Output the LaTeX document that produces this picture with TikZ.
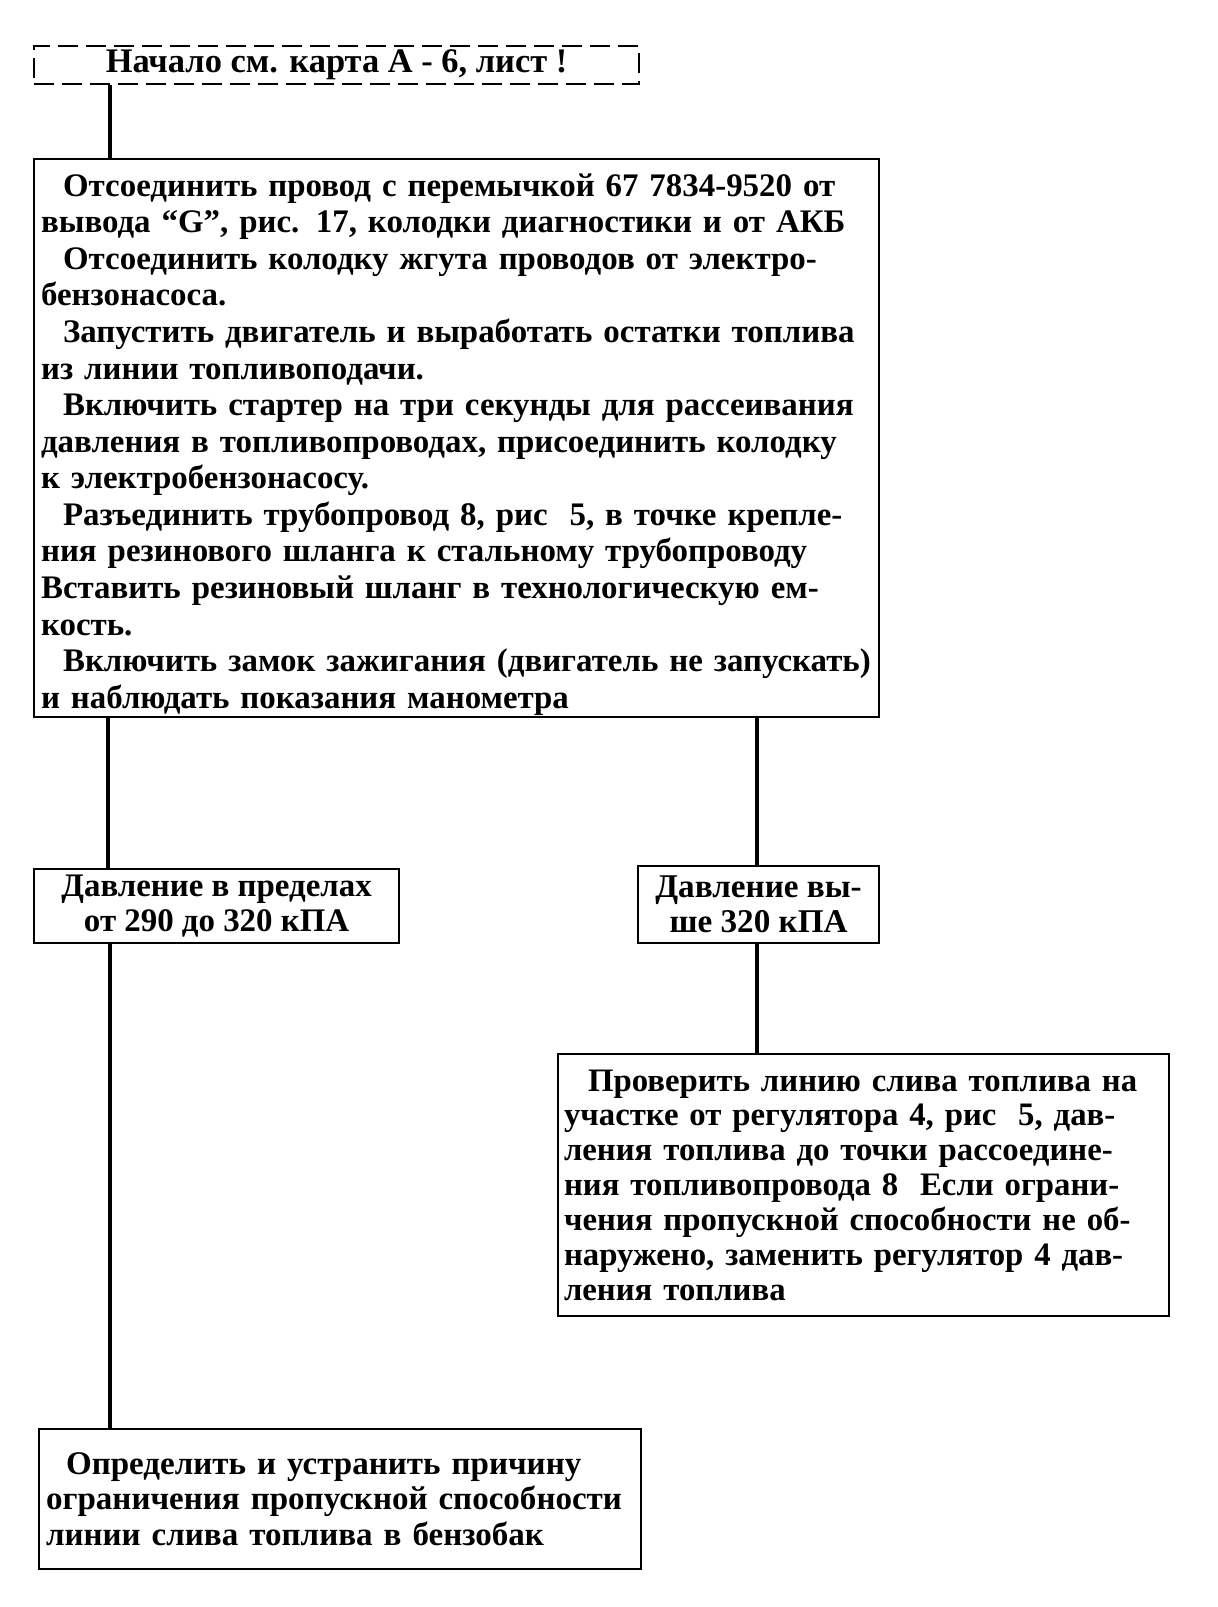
\documentclass[tikz,border=0pt]{standalone}
\usepackage{fontspec}
\setmainfont{Liberation Serif}
\newcommand\tline[1]{\mbox{#1}}
\begin{document}
\begin{tikzpicture}[x=0.025cm,y=-0.025cm,
  box/.style={draw, line width=1.5pt, inner xsep=0.175cm, inner ysep=0pt, anchor=north west,
    font=\bfseries\fontsize{23.4}{26}\selectfont},
  link/.style={line width=3.2pt}]
\useasboundingbox (0,0) rectangle (1218,1607);
\node[box, dashed, dash pattern=on 0.5cm off 0.2cm, align=center, minimum width=15.125cm, minimum height=0.95cm, font=\bfseries\fontsize{24.5}{26}\selectfont] (start) at (33,45) {Начало см. карта А - 6, лист !};
\node[box, align=left, text width=20.775cm, minimum height=13.95cm] (main) at (33,158) {%
\tline{\rule{0pt}{25pt}\hspace*{0.55cm}Отсоединить провод с перемычкой 67 7834-9520 от}\\
\tline{вывода “G”, рис. 17, колодки диагностики и от АКБ}\\
\tline{\hspace*{0.55cm}Отсоединить колодку жгута проводов от электро-}\\
\tline{бензонасоса.}\\
\tline{\hspace*{0.55cm}Запустить двигатель и выработать остатки топлива}\\
\tline{из линии топливоподачи.}\\
\tline{\hspace*{0.55cm}Включить стартер на три секунды для рассеивания}\\
\tline{давления в топливопроводах, присоединить колодку}\\
\tline{к электробензонасосу.}\\
\tline{\hspace*{0.55cm}Разъединить трубопровод 8, рис\ \ 5, в точке крепле-}\\
\tline{ния резинового шланга к стальному трубопроводу}\\
\tline{Вставить резиновый шланг в технологическую ем-}\\
\tline{кость.}\\
\tline{\hspace*{0.55cm}Включить замок зажигания (двигатель не запускать)}\\
\tline{и наблюдать показания манометра}};
\node[box, align=center, minimum width=9.125cm, minimum height=1.85cm, font=\bfseries\fontsize{23.4}{24.8}\selectfont] (p1) at (33,868) {Давление в пределах\\от 290 до 320 кПА};
\node[box, align=center, minimum width=6.025cm, minimum height=1.925cm, font=\bfseries\fontsize{23.6}{24.8}\selectfont] (p2) at (637,865) {Давление вы-\\ше 320 кПА};
\node[box, align=left, inner xsep=0.15cm, text width=14.975cm, minimum height=6.55cm, font=\bfseries\fontsize{23.3}{24.8}\selectfont] (chk) at (557,1053) {%
\tline{\hspace*{0.6cm}Проверить линию слива топлива на}\\
\tline{участке от регулятора 4, рис\ \ 5, дав-}\\
\tline{ления топлива до точки рассоедине-}\\
\tline{ния топливопровода 8\ \ Если ограни-}\\
\tline{чения пропускной способности не об-}\\
\tline{наружено, заменить регулятор 4 дав-}\\
\tline{ления топлива}};
\node[box, align=left, text width=14.7cm, minimum height=3.5cm, font=\bfseries\fontsize{23.5}{25.5}\selectfont] (fix) at (38,1428) {%
\tline{\hspace*{0.5cm}Определить и устранить причину}\\
\tline{ограничения пропускной способности}\\
\tline{линии слива топлива в бензобак}};
\coordinate (xa) at (110,0);
\coordinate (xb) at (108,0);
\coordinate (xc) at (757,0);
\draw[link] (start.south -| xa) -- (main.north -| xa);
\draw[link] (main.south -| xb) -- (p1.north -| xb);
\draw[link] (main.south -| xc) -- (p2.north -| xc);
\draw[link] (p2.south -| xc) -- (chk.north -| xc);
\draw[link] (p1.south -| xa) -- (fix.north -| xa);
\end{tikzpicture}
\end{document}
